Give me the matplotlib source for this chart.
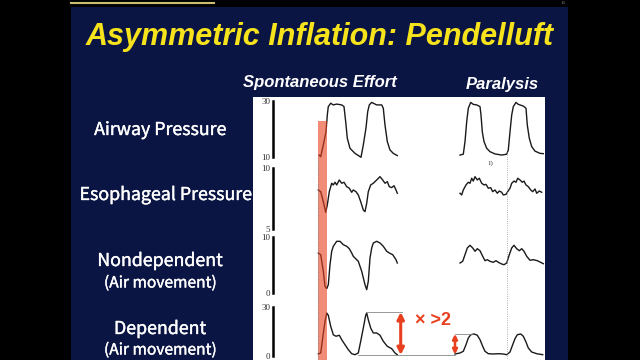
import matplotlib
matplotlib.use("Agg")
import matplotlib.pyplot as plt
import matplotlib.patheffects as pe
from matplotlib.patches import Rectangle

# ---- traces (time in arbitrary sample units measured from the scale bar) ----
# Spontaneous effort
airway_spont_t = [46, 47.7, 50.3, 53, 54.3, 55.3, 57.7, 60.3, 63.7, 68.7, 71, 72.7, 74.3, 77, 82, 88,
                  90.3, 93, 94.7, 96.3, 98.7, 103.7, 108.7, 110.3, 112, 114.3, 117, 120.3, 124.3]
airway_spont_v = [10.7, 10.1, 14.3, 19.0, 25.0, 28.0, 29.2, 28.6, 28.9, 28.6, 28.0, 22.6, 16.7, 13.1, 11.3, 9.9,
                  14.3, 20.4, 26.2, 28.6, 29.5, 28.6, 28.6, 27.4, 21.4, 15.5, 12.5, 11.3, 10.5]

esoph_spont_t = [45.3, 47.7, 50.3, 52.7, 54.3, 56.3, 58.7, 60.3, 62, 63.7, 66.3, 68.7, 71, 73.7, 76.3, 78.7,
                 80.3, 83, 85.3, 87.7, 90.3, 92, 93.7, 95.3, 97.7, 100.3, 103.7, 107, 109.7, 112, 114.3,
                 116.3, 118.7, 121, 123, 124.3]
esoph_spont_v = [8.20, 8.06, 7.24, 6.37, 6.97, 8.06, 8.75, 8.61, 8.83, 8.61, 9.02, 8.75, 8.83, 8.47, 8.34, 8.01,
                 8.20, 8.06, 7.79, 7.24, 6.56, 6.42, 7.11, 8.06, 8.61, 8.75, 9.02, 9.29, 9.02, 8.75, 8.88,
                 8.47, 8.39, 8.55, 8.20, 7.93]

nondep_spont_t = [45.3, 47.7, 50.3, 52, 53.7, 55.3, 57, 58.7, 60.3, 63.7, 67, 70.3, 73.7, 76.3, 78.7, 80.3,
                  82, 85.3, 88.7, 92, 93.7, 95.3, 97, 98.7, 100.3, 103.7, 107, 110.3, 113.7, 116.3, 119.7,
                  123, 124.3]
nondep_spont_v = [7.14, 6.84, 3.88, 1.20, 0.77, 1.48, 5.05, 7.45, 8.34, 9.23, 9.23, 8.63, 8.34, 7.91, 7.14, 6.55,
                  6.25, 5.66, 3.88, 1.48, 0.59, 2.09, 6.25, 8.04, 8.93, 9.23, 8.93, 8.34, 7.45, 7.14, 6.84,
                  5.95, 5.36]

dep_spont_t = [45.3, 47.7, 49.7, 52, 53.7, 55.3, 57.7, 60.3, 63, 66.3, 68.7, 72, 75.3, 78.7, 82, 85.3,
               87.7, 90.3, 92.7, 93.7, 95.3, 97.7, 100.3, 103.7, 107, 110.3, 114.3, 118.7, 122, 124.3]
dep_spont_v = [1.22, 1.84, 11.0, 21.2, 26.3, 24.9, 18.2, 13.0, 12.1, 12.7, 10.0, 6.92, 3.86, 1.41, 0.80, 1.84,
               9.0, 17.1, 24.9, 26.3, 22.2, 17.1, 14.1, 14.1, 12.7, 9.0, 5.94, 4.47, 1.84, 0.80]

# Paralysis
airway_par_t = [187, 190.3, 192, 193.7, 195.3, 197.7, 200.3, 203.7, 207, 208, 209.3, 211, 213.7, 217, 222, 228.7,
                233.7, 235.3, 237, 238.7, 240.3, 243, 245.3, 250.3, 253, 254.3, 256.3, 258.7, 262, 267, 270.3]
airway_par_v = [10.7, 11.0, 15.5, 22.6, 27.4, 29.5, 28.8, 28.6, 28.0, 25.0, 19.0, 15.5, 13.1, 11.9, 11.1, 10.7,
                11.0, 12.5, 19.0, 25.0, 28.0, 29.5, 28.8, 28.2, 27.4, 21.4, 16.7, 13.7, 12.1, 11.3, 11.2]

esoph_par_t = [187, 188.7, 190.3, 193, 195.3, 197, 198.7, 200.3, 202, 204.3, 206.3, 208.7, 211, 213, 215.3,
               217.7, 219.7, 222, 224.3, 226.3, 228.7, 230.3, 233, 234.7, 237, 238.7, 241, 243, 244.7, 247,
               249.3, 251, 253, 255.3, 257.7, 259.7, 262, 263.7, 266.3, 268.7]
esoph_par_v = [7.93, 7.79, 8.20, 8.61, 8.83, 8.75, 9.16, 8.93, 9.29, 9.02, 9.16, 8.75, 8.61, 8.66, 8.34,
               8.39, 8.06, 8.20, 7.93, 8.11, 8.01, 7.79, 7.84, 8.06, 8.34, 8.75, 8.93, 8.83, 9.16, 9.02,
               8.83, 8.93, 8.61, 8.47, 8.20, 8.06, 8.28, 7.93, 8.11, 8.01]

nondep_par_t = [187, 189.7, 192, 194.3, 197, 199.7, 202, 204.3, 207, 209.7, 212, 214.3, 217, 220.3, 223, 225.3,
                228.7, 231, 233.7, 236.3, 238.7, 241, 243.7, 246.3, 248.7, 251, 253.7, 257, 260.3, 264.3, 267, 270.3]
nondep_par_v = [5.36, 5.66, 6.84, 8.04, 8.52, 8.04, 7.45, 7.91, 7.55, 6.55, 5.77, 5.95, 5.66, 5.48, 5.77, 5.48,
                5.18, 5.05, 5.36, 6.84, 8.04, 8.52, 7.91, 7.55, 7.91, 7.45, 6.55, 5.84, 5.95, 5.77, 5.54, 5.23]

dep_par_t = [182, 187, 190.3, 193, 195.3, 197.7, 201, 204.3, 207, 209.7, 212, 215.3, 220.3, 225.3, 230.3, 233.7,
             237, 239.7, 242, 244.3, 247.7, 250.3, 253, 255.3, 258.7, 263.7, 269.7]
dep_par_v = [1.22, 1.84, 2.88, 6.92, 11.0, 13.0, 13.5, 12.7, 10.0, 5.94, 2.88, 1.41, 1.22, 1.41, 1.22, 0.80,
             2.45, 6.92, 10.6, 13.0, 13.5, 12.1, 8.57, 4.90, 2.45, 1.41, 0.80]

row_labels = ["Airway Pressure", "Esophageal Pressure", "Nondependent", "Dependent"]
row_ranges = [(10, 30), (5, 10), (0, 10), (0, 30)]

effort_onset = (45.3, 53.7)     # shaded inspiratory effort
paralysis_mark = 234            # dotted marker in paralysis column
dep_peak_spont = 26.9
dep_peak_par = 13.5
dep_base = 0.6

NAVY = "#0b1543"
RED = "#e8401f"
YELLOW = "#f7e31c"

fig = plt.figure(figsize=(6.4, 3.6), dpi=100)
fig.patch.set_facecolor("black")

# background slide
bg = fig.add_axes([0, 0, 1, 1])
bg.set_xlim(0, 640)
bg.set_ylim(360, 0)
bg.axis("off")
bg.add_patch(Rectangle((71, 7), 497, 353, color=NAVY, lw=0))
bg.add_patch(Rectangle((253, 97), 292, 263, color="white", lw=0))
bg.plot([71, 214], [3, 3], color="#c8bd70", lw=1.5)
bg.text(563, 3, "15", color="#888888", fontsize=3.5, ha="center", va="center", family="Liberation Serif")

bg.text(320, 37, "Asymmetric Inflation: Pendelluft", color=YELLOW, fontsize=22, fontweight="bold",
        fontstyle="italic", family="Liberation Sans", ha="center", va="center")
bg.text(320, 83, "Spontaneous Effort", color="white", fontsize=12, fontweight="bold",
        fontstyle="italic", family="Liberation Sans", ha="center", va="center")
bg.text(502, 84, "Paralysis", color="white", fontsize=12, fontweight="bold",
        fontstyle="italic", family="Liberation Sans", ha="center", va="center")

lab_font = ["Noto Sans CJK JP", "DejaVu Sans"]
lab_kw = dict(color="white", family=lab_font, fontweight="normal", ha="center", va="center",
              path_effects=[pe.withStroke(linewidth=0.25, foreground="white")])
bg.text(160, 130, row_labels[0], fontsize=12.8, **lab_kw)
bg.text(165.5, 195, row_labels[1], fontsize=12.8, **lab_kw)
bg.text(160, 261, row_labels[2], fontsize=12.8, **lab_kw)
bg.text(160, 283, "(Air movement)", fontsize=11.2, **lab_kw)
bg.text(160, 329, row_labels[3], fontsize=12.8, **lab_kw)
bg.text(160, 350, "(Air movement)", fontsize=11.2, **lab_kw)

# one axes per signal, left spine is the scale bar
row_px = [(101, 157), (168, 229), (237, 293), (307, 356)]
spont = [(airway_spont_t, airway_spont_v), (esoph_spont_t, esoph_spont_v),
         (nondep_spont_t, nondep_spont_v), (dep_spont_t, dep_spont_v)]
par = [(airway_par_t, airway_par_v), (esoph_par_t, esoph_par_v),
       (nondep_par_t, nondep_par_v), (dep_par_t, dep_par_v)]

axes = []
for (top, bot), (lo, hi), s, p in zip(row_px, row_ranges, spont, par):
    ax = fig.add_axes([273 / 640, 1 - bot / 360, 272 / 640, (bot - top) / 360])
    ax.patch.set_alpha(0)
    ax.set_xlim(0, 272)
    ax.set_ylim(lo, hi)
    for side in ["top", "right", "bottom"]:
        ax.spines[side].set_visible(False)
    ax.spines["left"].set_linewidth(1.8)
    ax.set_xticks([])
    ax.set_yticks([lo, hi])
    ax.set_yticklabels([str(lo), str(hi)])
    ax.tick_params(axis="y", length=0, pad=2, labelsize=6.5, labelcolor="#333333")
    for lab in ax.get_yticklabels():
        lab.set_family("Liberation Serif")
    ax.plot(s[0], s[1], color="#1a1a1a", lw=1.0, clip_on=False)
    ax.plot(p[0], p[1], color="#1a1a1a", lw=1.0, clip_on=False)
    axes.append(ax)

# dependent row annotations
ax_dep = axes[3]
ax_dep.plot([94, 129], [dep_peak_spont, dep_peak_spont], color="#888888", lw=0.6, clip_on=False)
ax_dep.plot([85, 182], [dep_base, dep_base], color="#888888", lw=0.6, clip_on=False)
ax_dep.plot([182, 199], [dep_peak_par, dep_peak_par], color="#888888", lw=0.6, clip_on=False)
ax_dep.annotate("", xy=(127.7, dep_base), xytext=(127.7, dep_peak_spont),
                arrowprops=dict(arrowstyle="<|-|>", color=RED, lw=2.2, mutation_scale=10,
                                shrinkA=0, shrinkB=0), annotation_clip=False)
ax_dep.annotate("", xy=(182, dep_base + 0.3), xytext=(182, dep_peak_par),
                arrowprops=dict(arrowstyle="<|-|>", color=RED, lw=1.8, mutation_scale=7,
                                shrinkA=0, shrinkB=0), annotation_clip=False)
ax_dep.text(160, 22, "× >2", color=RED, fontsize=13, fontweight="bold", family="Liberation Sans",
            ha="center", va="center")
axes[0].text(217, 7.9, "1)", color="#333333", fontsize=5, family="Liberation Serif", ha="center", va="center")

# overlay: effort band and marker lines
ov = fig.add_axes([0, 0, 1, 1])
ov.patch.set_alpha(0)
ov.set_xlim(0, 640)
ov.set_ylim(360, 0)
ov.axis("off")
ov.add_patch(Rectangle((273 + effort_onset[0], 121), effort_onset[1] - effort_onset[0], 240,
                       color=RED, alpha=0.6, lw=0))
ov.plot([273 + effort_onset[0]] * 2, [157, 360], color="#777777", lw=0.6, ls=":")
ov.plot([273 + paralysis_mark] * 2, [152, 360], color="#999999", lw=0.6, ls=":")

fig.savefig("out.png", dpi=100, facecolor=fig.get_facecolor())
